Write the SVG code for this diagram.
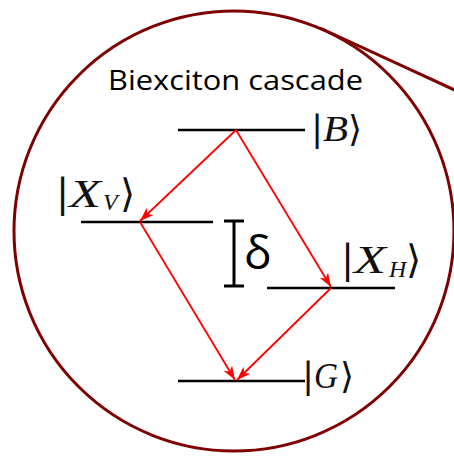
<svg xmlns="http://www.w3.org/2000/svg" width="454" height="456" viewBox="0 0 454 456">
  <defs>
    <marker id="ah" viewBox="0 0 14 10" refX="14" refY="5" markerWidth="14" markerHeight="10" markerUnits="userSpaceOnUse" orient="auto">
      <path d="M0,0 L14,5 L0,10 L4,5 Z" fill="#ff0000"/>
    </marker>
  </defs>
  <style>
    .zoom { fill: none; stroke: #7f0000; stroke-width: 3; }
    .level { stroke: #000; stroke-width: 2.5; }
    .tr { stroke: #ff0000; stroke-width: 1.8; fill: none; marker-end: url(#ah); }
    .title { font-family: "Open Sans", "Noto Sans", sans-serif; font-size: 27px; fill: #000; }
    .m { font-family: "Liberation Serif", "DejaVu Serif", serif; fill: #111; }
    .it { font-style: italic; }
    .br { font-family: "DejaVu Serif", serif; font-style: normal; }
    .delta { font-family: "Open Sans", "Noto Sans", sans-serif; font-size: 46px; fill: #000; }
  </style>
  <g id="zoom-circle">
    <circle class="zoom" cx="234" cy="231" r="220"/>
    <line class="zoom" x1="320" y1="28" x2="460" y2="92.5"/>
  </g>
  <g id="title">
    <text class="title" x="108" y="90" textLength="255" lengthAdjust="spacingAndGlyphs">Biexciton cascade</text>
  </g>
  <g id="level-B">
    <line class="level" x1="178" y1="130" x2="305" y2="130"/>
    <text class="m" font-size="36" y="141"><tspan class="br" x="311">|</tspan><tspan class="it" x="323" textLength="25" lengthAdjust="spacingAndGlyphs">B</tspan><tspan class="br" x="348">⟩</tspan></text>
  </g>
  <g id="level-XV">
    <line class="level" x1="81" y1="222" x2="213" y2="222"/>
    <text class="m" font-size="39" y="207"><tspan class="br" x="56">|</tspan><tspan class="it" x="69" textLength="32" lengthAdjust="spacingAndGlyphs">X</tspan><tspan class="it" font-size="24" x="103" y="210">V</tspan><tspan class="br" x="120" y="207">⟩</tspan></text>
  </g>
  <g id="level-XH">
    <line class="level" x1="267" y1="288" x2="395" y2="288"/>
    <text class="m" font-size="39" y="273"><tspan class="br" x="341">|</tspan><tspan class="it" x="354" textLength="32" lengthAdjust="spacingAndGlyphs">X</tspan><tspan class="it" font-size="24" x="389" y="277">H</tspan><tspan class="br" x="406" y="273">⟩</tspan></text>
  </g>
  <g id="level-G">
    <line class="level" x1="178" y1="381" x2="305" y2="381"/>
    <text class="m" font-size="36" y="388"><tspan class="br" x="302">|</tspan><tspan class="it" x="314" textLength="24" lengthAdjust="spacingAndGlyphs">G</tspan><tspan class="br" x="340">⟩</tspan></text>
  </g>
  <g id="splitting">
    <path d="M224,221 H244 M234,221 V286 M224,286 H244" stroke="#000" stroke-width="3" fill="none"/>
    <text class="delta" x="244" y="269">δ</text>
  </g>
  <g id="connectors">
    <line class="tr" x1="236" y1="130" x2="140" y2="221"/>
    <line class="tr" x1="236" y1="130" x2="331" y2="287"/>
    <line class="tr" x1="140" y1="222" x2="235" y2="380"/>
    <line class="tr" x1="331" y1="288" x2="237" y2="380"/>
  </g>
</svg>
